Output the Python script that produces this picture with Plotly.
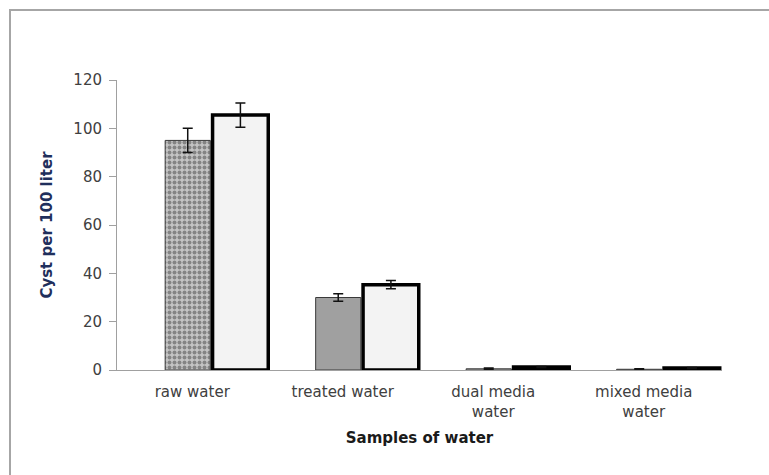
import plotly.graph_objects as go

# ---- data ----
categories = ["raw water", "treated water", "dual media<br>water", "mixed media<br>water"]
series_a = [95.0, 30.0, 0.5, 0.3]      # patterned / gray bars
series_a_err = [5.0, 1.6, 0.3, 0.2]
series_b = [105.5, 35.3, 1.2, 0.8]     # white bars with thick outline
series_b_err = [5.0, 1.7, 0.2, 0.2]
y_ticks = [0, 20, 40, 60, 80, 100, 120]

fig = go.Figure()

fig.add_trace(go.Bar(
    x=categories, y=series_a,
    offset=-0.18, width=0.30,
    marker=dict(
        color=["#c4c4c4", "#a0a0a0", "#c8c8c8", "#c8c8c8"],
        line=dict(color="#3a3a3a", width=1),
        pattern=dict(shape=[".", "", "", ""], fgcolor="#7a7a7a",
                     size=5, solidity=0.5, fillmode="overlay"),
    ),
    error_y=dict(type="data", array=series_a_err, visible=True,
                 color="#111111", thickness=1.5, width=5),
    showlegend=False, hoverinfo="x+y",
))

fig.add_trace(go.Bar(
    x=categories, y=series_b,
    offset=0.135, width=0.37,
    marker=dict(color="#f3f3f3", line=dict(color="#000000", width=3.5)),
    error_y=dict(type="data", array=series_b_err, visible=True,
                 color="#111111", thickness=1.5, width=5),
    showlegend=False, hoverinfo="x+y",
))

L, R, T, B = 117, 47, 80, 105
W, H = 769, 475
pw, ph = W - L - R, H - T - B

fig.update_layout(
    width=W, height=H,
    margin=dict(l=L, r=R, t=T, b=B, pad=0),
    paper_bgcolor="white", plot_bgcolor="white",
    barmode="overlay",
    font=dict(family="DejaVu Sans", size=15, color="#404040"),
    xaxis=dict(
        type="category", range=[-0.5, 3.52],
        showline=True, linecolor="#a0a0a0", linewidth=1,
        ticks="", showgrid=False, zeroline=False,
        tickfont=dict(family="DejaVu Sans", size=15, color="#404040"),
        ticklabelstandoff=8,
        title=dict(text="<b>Samples of water</b>", standoff=12,
                   font=dict(family="DejaVu Sans", size=15, color="#1a1a1a")),
    ),
    yaxis=dict(
        range=[0, 120], tickvals=y_ticks,
        showline=True, linecolor="#a0a0a0", linewidth=1,
        ticks="outside", ticklen=7, tickcolor="#a0a0a0",
        showgrid=False, zeroline=False,
        tickfont=dict(family="DejaVu Sans", size=15, color="#404040"),
        ticklabelstandoff=4,
        title=dict(text="<b>Cyst per 100 liter</b>", standoff=17,
                   font=dict(family="DejaVu Sans", size=15, color="#1f2f5c")),
    ),
    shapes=[dict(
        type="rect", xref="paper", yref="paper",
        x0=(10 - L) / pw, x1=(W + 20 - L) / pw,
        y0=-(B + 20) / ph, y1=1 + (T - 10) / ph,
        line=dict(color="#a6a6a6", width=2), fillcolor="rgba(0,0,0,0)",
        layer="below",
    )],
)

fig.write_html("out.html")
